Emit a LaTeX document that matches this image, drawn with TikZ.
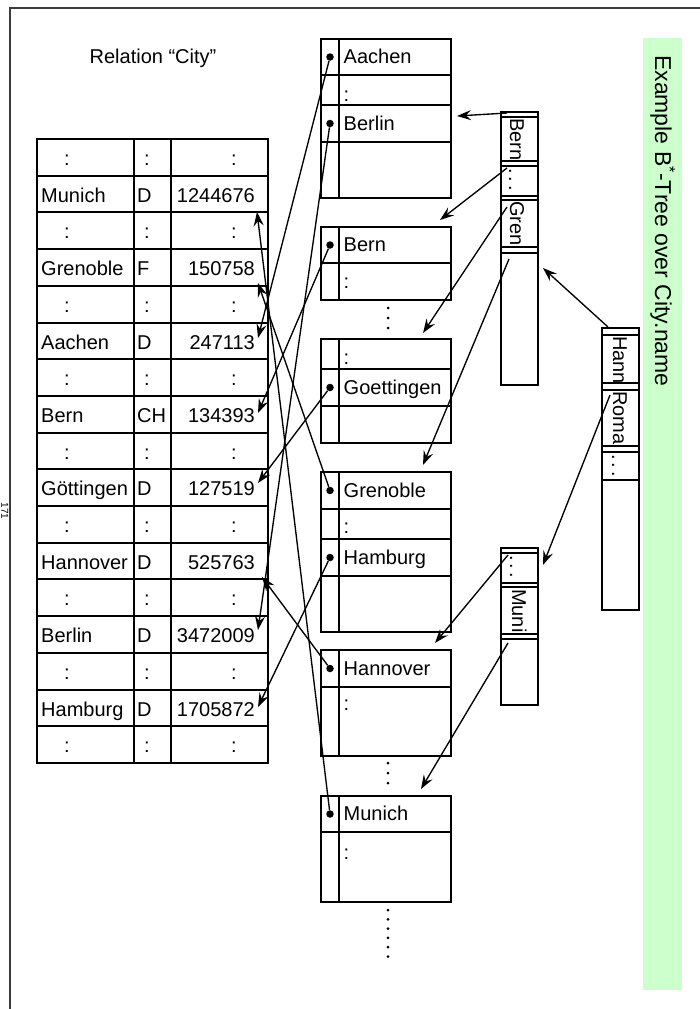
\documentclass[tikz,border=0pt]{standalone}
\usepackage{fontspec}
\setmainfont{Liberation Sans}
\usetikzlibrary{arrows.meta}
\newcommand\lbfont{\fontsize{20}{24}\selectfont}
\newcommand\ttlfont{\fontsize{23}{27}\selectfont}
\newcommand\tabrow[5]{%
  \node[lbl,anchor=base west] (n#5) at (41,{139+36.7*#1+26.5}) {#2};
  \node[lbl,anchor=base west] (c#5) at (137,{139+36.7*#1+26.5}) {#3};
  \node[lbl,anchor=base east] (v#5) at (255,{139+36.7*#1+26.5}) {#4};}
\definecolor{bargreen}{RGB}{204,255,204}
\definecolor{framegray}{RGB}{60,60,60}
\tikzset{
  box/.style={line width=2pt},
  frameline/.style={line width=1.1pt, draw=framegray},
  lbl/.style={font=\lbfont, inner sep=0pt},
  rlbl/.style={font=\lbfont, inner sep=0pt, rotate=-90, anchor=base west},
  ptr/.style={-{Stealth[length=14pt,width=10pt,inset=5pt]}, line width=1.35pt},
  bul/.style={circle, fill=black, inner sep=0pt, minimum size=7.5pt},
  vdot/.style={circle, fill=black, inner sep=0pt, minimum size=3pt},
}
\begin{document}
\begin{tikzpicture}[x=1pt,y=-1pt]
\useasboundingbox (0,0) rectangle (700,1009);
% page frame
\draw[frameline] (700,8) -- (10,8) -- (10,1009);
\node[rotate=-90, font=\fontsize{10}{12}\selectfont, inner sep=0pt] (pg) at (4.8,511) {171};
% green title bar
\fill[bargreen] (643,38) rectangle (682,990);
\node[rotate=-90, anchor=base west, font=\ttlfont, inner sep=0pt] (title) at (655,55) {Example B\textsuperscript{*}-Tree over City.name};
% relation title
\node[lbl, anchor=base] (reltitle) at (153,63) {Relation “City”};
% table
\draw[box] (37,139) rectangle (268,763);
\draw[box] (134,139) -- (134,763);
\draw[box] (171,139) -- (171,763);
\foreach \k in {1,...,16} \draw[box] (37,{139+36.7*\k}) -- (268,{139+36.7*\k});
\foreach \k in {0,2,...,16} {
  \node[lbl,anchor=base] (ca\k) at (67,{139+36.7*\k+26.5}) {:};
  \node[lbl,anchor=base] (cb\k) at (147,{139+36.7*\k+26.5}) {:};
  \node[lbl,anchor=base] (cc\k) at (234,{139+36.7*\k+26.5}) {:};
}
\tabrow{1}{Munich}{D}{1244676}{Mun}
\tabrow{3}{Grenoble}{F}{150758}{Gren}
\tabrow{5}{Aachen}{D}{247113}{Aach}
\tabrow{7}{Bern}{CH}{134393}{Bern}
\tabrow{9}{Göttingen}{D}{127519}{Goett}
\tabrow{11}{Hannover}{D}{525763}{Hann}
\tabrow{13}{Berlin}{D}{3472009}{Berl}
\tabrow{15}{Hamburg}{D}{1705872}{Hamb}
% leaf box 1
\draw[box] (321,39) rectangle (451,198);
\draw[box] (339,39) -- (339,198);
\foreach \y in {75,105,142} \draw[box] (321,\y) -- (451,\y);
\node[bul] (bAach) at (330,57) {};
\node[lbl,anchor=base west] (lAach) at (343.5,63.5) {Aachen};
\node[lbl,anchor=base west] (lc1) at (343.5,101) {:};
\node[bul] (bBerl) at (330,123.5) {};
\node[lbl,anchor=base west] (lBerl) at (343.5,130) {Berlin};
% leaf box 2
\draw[box] (321,227) rectangle (451,300);
\draw[box] (339,227) -- (339,300);
\draw[box] (321,263) -- (451,263);
\node[bul] (bBern) at (330,245) {};
\node[lbl,anchor=base west] (lBern) at (343.5,251.5) {Bern};
\node[lbl,anchor=base west] (lc2) at (343.5,288) {:};
\foreach \y in {308,318,328} \node[vdot] at (388,\y) {};
% leaf box 3
\draw[box] (321,339) rectangle (451,443);
\draw[box] (339,339) -- (339,443);
\foreach \y in {369,406} \draw[box] (321,\y) -- (451,\y);
\node[lbl,anchor=base west] (lc3) at (343.5,364.5) {:};
\node[bul] (bGoett) at (330,387.5) {};
\node[lbl,anchor=base west] (lGoett) at (343.5,394) {Goettingen};
% leaf box 4
\draw[box] (321,472) rectangle (451,632);
\draw[box] (339,472) -- (339,632);
\foreach \y in {509,539,576} \draw[box] (321,\y) -- (451,\y);
\node[bul] (bGren) at (330,490.5) {};
\node[lbl,anchor=base west] (lGren) at (343.5,497) {Grenoble};
\node[lbl,anchor=base west] (lc4) at (343.5,533.5) {:};
\node[bul] (bHamb) at (330,557.5) {};
\node[lbl,anchor=base west] (lHamb) at (343.5,564) {Hamburg};
% leaf box 5
\draw[box] (321,650) rectangle (451,756);
\draw[box] (339,650) -- (339,756);
\draw[box] (321,687) -- (451,687);
\node[bul] (bHann) at (330,668.5) {};
\node[lbl,anchor=base west] (lHann) at (343.5,675) {Hannover};
\node[lbl,anchor=base west] (lc5) at (343.5,710.5) {:};
\foreach \y in {763,773,783} \node[vdot] at (388,\y) {};
% leaf box 6
\draw[box] (321,796) rectangle (451,902);
\draw[box] (339,796) -- (339,902);
\draw[box] (321,832) -- (451,832);
\node[bul] (bMun) at (330,814) {};
\node[lbl,anchor=base west] (lMun) at (343.5,820.5) {Munich};
\node[lbl,anchor=base west] (lc6) at (343.5,859) {:};
\foreach \y in {910,919.3,928.6,937.9,947.2,956.5} \node[vdot] at (388,\y) {};
% inner node A
\draw[box] (500.5,112) rectangle (538,385);
\foreach \y in {117,161,166,196,200,247,253} \draw[box] (500.5,\y) -- (538,\y);
\node[rlbl] (kBern) at (510,118) {Bern};
\node[rlbl] (kdA) at (509,168) {.\kern3pt.\kern3pt.};
\node[rlbl] (kGren) at (510,201) {Gren};
% root node
\draw[box] (602,328) rectangle (639,610);
\foreach \y in {335,383,390,446,452,480} \draw[box] (602,\y) -- (639,\y);
\node[rlbl] (kHann) at (613,336) {Hann};
\node[rlbl] (kRoma) at (613,391) {Roma};
\node[rlbl] (kdR) at (612,454) {.\kern3pt.\kern3pt.};
% inner node B
\draw[box] (500.5,548) rectangle (538,705);
\foreach \y in {553,583,587,634,639} \draw[box] (500.5,\y) -- (538,\y);
\node[rlbl] (kdB) at (510,555) {.\kern3pt.\kern3pt.};
\node[rlbl] (kMuni) at (512,589) {Muni};
% table targets
\coordinate (tAach) at (258,338);
\coordinate (tBerl) at (258,630);
\coordinate (tBern) at (258,413);
\coordinate (tGoett) at (258,483);
\coordinate (tHamb) at (258,707);
\coordinate (tMun) at (257,212);
\coordinate (tGren) at (258,283);
\coordinate (tHann) at (262,577);
\draw[ptr] (bAach) -- (tAach);
\draw[ptr] (bBerl) -- (tBerl);
\draw[ptr] (bBern) -- (tBern);
\draw[ptr] (bGoett) -- (tGoett);
\draw[ptr] (bHamb) -- (tHamb);
\draw[ptr] (bMun) -- (tMun);
\draw[ptr] (bGren) -- (tGren);
\draw[ptr] (bHann) -- (tHann);
% index pointers
\coordinate (sA1) at (507,113);
\coordinate (sA2) at (507,168);
\coordinate (sA3) at (507,207);
\coordinate (sA4) at (509,259);
\coordinate (sR1) at (608,327);
\coordinate (sR2) at (610,395);
\coordinate (sB1) at (508,555);
\coordinate (sB2) at (508,643);
\coordinate (eA1) at (457,116);
\coordinate (eA2) at (440,220);
\coordinate (eA3) at (423,333);
\coordinate (eA4) at (423,465);
\coordinate (eR1) at (543,268);
\coordinate (eR2) at (543,565);
\coordinate (eB1) at (435,643);
\coordinate (eB2) at (421,789);
\draw[ptr] (sA1) -- (eA1);
\draw[ptr] (sA2) -- (eA2);
\draw[ptr] (sA3) -- (eA3);
\draw[ptr] (sA4) -- (eA4);
\draw[ptr] (sR1) -- (eR1);
\draw[ptr] (sR2) -- (eR2);
\draw[ptr] (sB1) -- (eB1);
\draw[ptr] (sB2) -- (eB2);
\end{tikzpicture}
\end{document}
